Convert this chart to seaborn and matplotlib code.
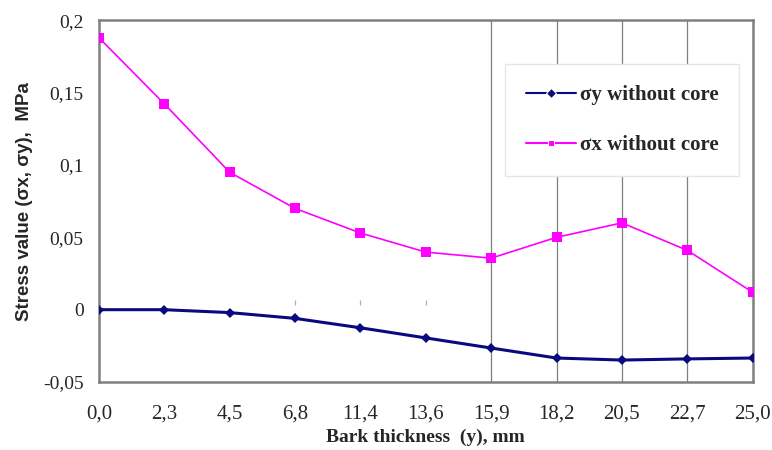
import numpy as np
import pandas as pd
import seaborn as sns
from matplotlib import pyplot as plt

# bark thickness categories (mm) and stresses (MPa)
thickness = ['0,0', '2,3', '4,5', '6,8', '11,4', '13,6', '15,9', '18,2', '20,5', '22,7', '25,0']
sigma_y = [0.0, 0.0, -0.002, -0.006, -0.0125, -0.0195, -0.0265, -0.0334, -0.0348, -0.034, -0.0334]
sigma_x = [0.188, 0.1423, 0.095, 0.070, 0.053, 0.0398, 0.0356, 0.050, 0.060, 0.041, 0.012]
y_ticks = [-0.05, 0, 0.05, 0.1, 0.15, 0.2]
y_tick_labels = ['-0,05', '0', '0,05', '0,1', '0,15', '0,2']

pos = np.arange(len(thickness))
df = pd.DataFrame({
    'pos': np.concatenate([pos, pos]),
    'stress': sigma_y + sigma_x,
    'series': ['σy without core'] * len(pos) + ['σx without core'] * len(pos),
})

sns.set_style('white')
plt.rcParams['font.family'] = ['Liberation Serif', 'DejaVu Serif']

fig, ax = plt.subplots(figsize=(7.72, 4.5), dpi=100)
fig.subplots_adjust(left=0.128, right=0.975, top=0.955, bottom=0.151)

# vertical gridlines from 15,9 onward, small stubs near zero for 6,8..13,6
ax.vlines(pos[6:], -0.05, 0.2, color='#7f7f7f', lw=0.9, zorder=1)
ax.vlines(pos[3:6], 0.003, 0.007, color='#d9a0a0', lw=0.9, zorder=1)

palette = {'σy without core': '#0a0a80', 'σx without core': '#ff00ff'}
sns.lineplot(data=df, x='pos', y='stress', hue='series', style='series',
             markers={'σy without core': 'D', 'σx without core': 's'},
             dashes=False, palette=palette, ax=ax, zorder=3)
for line, lw, ms in zip(ax.lines, [2.2, 1.2], [5, 7]):
    line.set_linewidth(lw)
    line.set_markersize(ms)
    line.set_markeredgewidth(0)

ax.set_xlim(pos[0], pos[-1])
ax.set_ylim(-0.05, 0.2)
ax.set_xticks(pos)
ax.set_xticklabels(thickness, fontsize=15)
ax.set_yticks(y_ticks)
ax.set_yticklabels(y_tick_labels, fontsize=14)
ax.tick_params(axis='x', length=0, pad=16)
ax.tick_params(axis='y', length=0, pad=11)

for sp in ax.spines.values():
    sp.set_color('#808080')
    sp.set_linewidth(1.8)

ax.set_xlabel('Bark thickness  (y), mm', fontsize=14, fontweight='bold', labelpad=4)
ax.set_ylabel('Stress value (σx, σy),  MPa', fontsize=13.5, fontweight='bold',
              family=['Liberation Sans', 'DejaVu Sans'], labelpad=7)

leg = ax.legend(loc='upper left', bbox_to_anchor=(0.621, 0.878), frameon=True,
                prop={'weight': 'bold', 'size': 15}, labelspacing=1.45,
                borderpad=1.0, borderaxespad=0, handlelength=2.4, handletextpad=0.2,
                fancybox=False)
leg.get_frame().set_edgecolor('#e6e6e6')
leg.get_frame().set_facecolor('white')
leg.get_frame().set_alpha(1)
leg.set_zorder(5)
for h in leg.legend_handles:
    h.set_markersize(5)

fig.savefig('out.png', dpi=100)
